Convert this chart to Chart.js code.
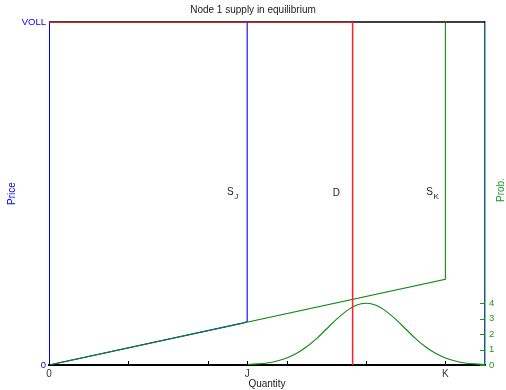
<!DOCTYPE html>
<html>
<head>
<meta charset="utf-8">
<title>Node 1 supply in equilibrium</title>
<script src="https://cdn.jsdelivr.net/npm/chart.js@4/dist/chart.umd.min.js"></script>
<style>
  html, body { margin: 0; padding: 0; background: #fff; }
  #wrap { width: 506px; height: 390px; }
</style>
</head>
<body>
<div id="wrap"><canvas id="chart" width="506" height="390"></canvas></div>
<script>
// ---- data (quantity in tick units, price as share of VOLL) ----
const xTicks      = [0, 1, 2, 2.5, 3, 4, 5];
const xTickLabels = ['0', '', '', 'J', '', '', 'K'];
const priceTicks  = [0, 1];
const priceLabels = ['0', 'VOLL'];
const probTicks   = [0, 1, 2, 3, 4];

const demandX = [0, 3.83, 3.83];
const demandY = [1, 1, 0];

const supplyJX = [0, 2.44, 2.5, 2.5];
const supplyJY = [0, 0.122, 0.127, 1];

const supplyKX = [0, 5, 5];
const supplyKY = [0, 0.25, 1];

const probX = [2.5, 2.625, 2.75, 2.875, 3, 3.125, 3.25, 3.375, 3.5, 3.625, 3.75, 3.875, 4,
               4.125, 4.25, 4.375, 4.5, 4.625, 4.75, 4.875, 5, 5.125, 5.25, 5.375, 5.5];
const probY = [0.03, 0.07, 0.13, 0.26, 0.46, 0.76, 1.18, 1.71, 2.33, 2.95, 3.49, 3.87, 4,
               3.87, 3.49, 2.95, 2.33, 1.71, 1.18, 0.76, 0.46, 0.26, 0.13, 0.07, 0.03];

const pts = (xs, ys) => xs.map((x, i) => ({ x, y: ys[i] }));

Chart.defaults.font.family = "'Liberation Sans', Arial, sans-serif";
Chart.defaults.font.size = 10;

// top frame line, under the curves
const frameTop = {
  id: 'frameTop',
  beforeDatasetsDraw(chart) {
    const { ctx, chartArea: a } = chart;
    ctx.save();
    ctx.strokeStyle = '#000';
    ctx.lineWidth = 1.5;
    ctx.beginPath();
    ctx.moveTo(a.left, a.top);
    ctx.lineTo(a.right, a.top);
    ctx.stroke();
    ctx.restore();
  }
};

// tick marks pointing into the plot
const innerTicks = {
  id: 'innerTicks',
  afterDatasetsDraw(chart) {
    const { ctx, chartArea: a, scales } = chart;
    ctx.save();
    ctx.lineWidth = 1;
    ctx.strokeStyle = '#000';
    xTicks.forEach(v => {
      const px = Math.round(scales.x.getPixelForValue(v)) + 0.5;
      ctx.beginPath();
      ctx.moveTo(px, a.bottom);
      ctx.lineTo(px, a.bottom - 4);
      ctx.stroke();
    });
    ctx.strokeStyle = '#1a9a1a';
    probTicks.forEach(v => {
      const py = Math.round(scales.y2.getPixelForValue(v)) + 0.5;
      ctx.beginPath();
      ctx.moveTo(a.right, py);
      ctx.lineTo(a.right - 5, py);
      ctx.stroke();
    });
    ctx.restore();
  }
};

// curve names and right axis title
const curveLabels = {
  id: 'curveLabels',
  afterDraw(chart) {
    const { ctx, scales } = chart;
    const x = scales.x, y = scales.y;
    const put = (qx, py, main, sub) => {
      const px = x.getPixelForValue(qx);
      const pyy = y.getPixelForValue(py);
      ctx.font = "10px 'Liberation Sans', Arial, sans-serif";
      ctx.fillStyle = '#222';
      ctx.textAlign = 'left';
      ctx.textBaseline = 'middle';
      ctx.fillText(main, px, pyy);
      if (sub) {
        const w = ctx.measureText(main).width;
        ctx.font = "8px 'Liberation Sans', Arial, sans-serif";
        ctx.fillText(sub, px + w + 0.5, pyy + 5);
      }
    };
    ctx.save();
    put(2.245, 0.505, 'S', 'J');
    put(3.58, 0.5, 'D');
    put(4.76, 0.505, 'S', 'K');

    ctx.translate(501, 190);
    ctx.rotate(-Math.PI / 2);
    ctx.font = "10px 'Liberation Sans', Arial, sans-serif";
    ctx.fillStyle = '#1a9a1a';
    ctx.textAlign = 'center';
    ctx.textBaseline = 'middle';
    ctx.fillText('Prob.', 0, 0);
    ctx.restore();
  }
};

new Chart(document.getElementById('chart'), {
  type: 'line',
  data: {
    datasets: [
      { label: 'D', data: pts(demandX, demandY), borderColor: '#ff2020', borderWidth: 1.5 },
      { label: 'S_K', data: pts(supplyKX, supplyKY), borderColor: '#0f8a0f', borderWidth: 1.1 },
      { label: 'Prob', data: pts(probX, probY), yAxisID: 'y2', borderColor: '#0f8a0f', borderWidth: 1.1,
        cubicInterpolationMode: 'monotone' },
      { label: 'S_J', data: pts(supplyJX, supplyJY), borderColor: '#0000ff', borderWidth: 1.1 }
    ]
  },
  options: {
    responsive: false,
    animation: false,
    devicePixelRatio: 1,
    layout: { padding: 0 },
    elements: { point: { radius: 0 }, line: { tension: 0, fill: false } },
    plugins: {
      legend: { display: false },
      tooltip: { enabled: false },
      title: {
        display: true,
        text: 'Node 1 supply in equilibrium',
        color: '#222',
        font: { size: 10, weight: 'normal' },
        padding: { top: 4, bottom: 6 }
      }
    },
    scales: {
      x: {
        type: 'linear',
        min: 0,
        max: 5.5,
        grid: { display: false, drawTicks: false },
        border: { display: true, color: '#000', width: 2 },
        afterBuildTicks: s => { s.ticks = xTicks.map(v => ({ value: v })); },
        afterFit: s => { s.height = 25; },
        ticks: {
          autoSkip: false,
          maxRotation: 0,
          padding: 3,
          color: '#333',
          font: { size: 10 },
          callback: v => xTickLabels[xTicks.indexOf(v)] ?? ''
        },
        title: { display: true, text: 'Quantity', color: '#222', font: { size: 10 }, padding: { top: 0, bottom: 0 } }
      },
      y: {
        type: 'linear',
        position: 'left',
        min: 0,
        max: 1,
        grid: { display: false, drawTicks: false },
        border: { display: true, color: '#0000ff', width: 1 },
        afterBuildTicks: s => { s.ticks = priceTicks.map(v => ({ value: v })); },
        afterFit: s => { s.width = 49; },
        ticks: {
          padding: 3,
          color: '#0000ff',
          font: { size: 9.5 },
          callback: v => priceLabels[priceTicks.indexOf(v)] ?? ''
        },
        title: { display: true, text: 'Price', color: '#0000ff', font: { size: 10 }, padding: { top: 6, bottom: 0 } }
      },
      y2: {
        type: 'linear',
        position: 'right',
        min: 0,
        max: 22.2,
        grid: { display: false, drawTicks: false },
        border: { display: true, color: '#1d6078', width: 1.5 },
        afterBuildTicks: s => { s.ticks = probTicks.map(v => ({ value: v })); },
        afterFit: s => { s.width = 21; },
        ticks: {
          padding: 4,
          color: '#1a9a1a',
          font: { size: 9.5 },
          callback: v => String(v)
        }
      }
    }
  },
  plugins: [frameTop, innerTicks, curveLabels]
});
</script>
</body>
</html>
